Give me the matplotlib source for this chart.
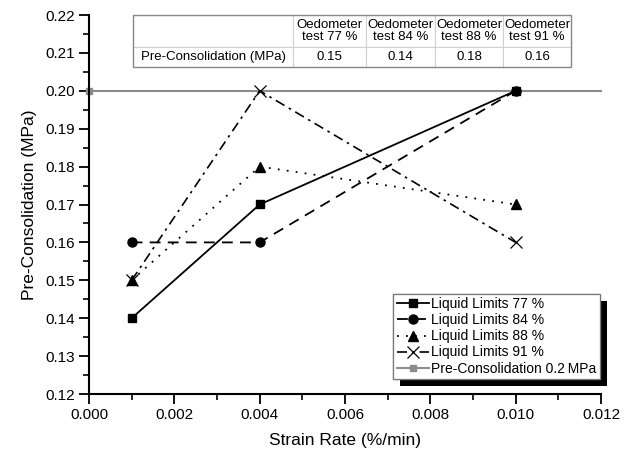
import numpy as np
import matplotlib.pyplot as plt
import matplotlib.patheffects as pe
from matplotlib.ticker import MultipleLocator, FormatStrFormatter

plt.rcParams['font.family'] = ['Liberation Sans', 'DejaVu Sans']

# strain rates and measured pre-consolidation pressures
strain_rate = [0.001, 0.004, 0.010]
ll77 = [0.14, 0.17, 0.20]
ll84 = [0.16, 0.16, 0.20]
ll88 = [0.15, 0.18, 0.17]
ll91 = [0.15, 0.20, 0.16]
ref_x = [0.0, 0.012]
ref_y = [0.20, 0.20]

# oedometer results for the inset table
oedo_cols = ['Oedometer\ntest 77 %', 'Oedometer\ntest 84 %',
             'Oedometer\ntest 88 %', 'Oedometer\ntest 91 %']
oedo_vals = ['0.15', '0.14', '0.18', '0.16']

fig = plt.figure(figsize=(6.32, 4.57), dpi=100)
ax = fig.add_axes([89/632, 63/457, 512/632, 379/457])

ax.plot(ref_x, ref_y, color='#8c8c8c', lw=1.5, marker='s', ms=5,
        markevery=[0], clip_on=False, zorder=2,
        label='Pre-Consolidation 0.2\u2009MPa')
ax.plot(strain_rate, ll77, color='k', lw=1.3, ls='-', marker='s', ms=6,
        label='Liquid Limits 77 %', zorder=3)
ax.plot(strain_rate, ll84, color='k', lw=1.3, ls=(0, (6, 4)), marker='o', ms=6.5,
        label='Liquid Limits 84 %', zorder=3)
ax.plot(strain_rate, ll88, color='k', lw=1.3, ls=(0, (1, 4)), marker='^', ms=7,
        label='Liquid Limits 88 %', zorder=3)
ax.plot(strain_rate, ll91, color='k', lw=1.2, ls=(0, (6, 3, 1.5, 3)), marker='x', ms=8,
        mew=0.9, label='Liquid Limits 91 %', zorder=3)

ax.set_xlim(0, 0.012)
ax.set_ylim(0.12, 0.22)
ax.xaxis.set_major_locator(MultipleLocator(0.002))
ax.xaxis.set_minor_locator(MultipleLocator(0.001))
ax.yaxis.set_major_locator(MultipleLocator(0.01))
ax.yaxis.set_minor_locator(MultipleLocator(0.005))
ax.xaxis.set_major_formatter(FormatStrFormatter('%.3f'))
ax.yaxis.set_major_formatter(FormatStrFormatter('%.2f'))

for side in ['top', 'right']:
    ax.spines[side].set_visible(False)
for side in ['left', 'bottom']:
    ax.spines[side].set_linewidth(1.5)
ax.tick_params(which='major', direction='out', length=7, width=1.3, labelsize=11, pad=3)
ax.tick_params(which='minor', direction='out', length=4, width=1.2)

ax.set_xlabel('Strain Rate (%/min)', fontsize=12.5, labelpad=8)
ax.set_ylabel('Pre-Consolidation (MPa)', fontsize=12.5, labelpad=6)

# legend order: series first, reference line last
handles, labels = ax.get_legend_handles_labels()
handles = handles[1:] + handles[:1]
labels = labels[1:] + labels[:1]
leg = ax.legend(handles, labels, loc='lower right', bbox_to_anchor=(600/632, 78/457),
                bbox_transform=fig.transFigure, borderaxespad=0, fontsize=10,
                fancybox=False, framealpha=1, edgecolor='#777777', handlelength=2.3,
                handletextpad=0.2, borderpad=0.25, labelspacing=0.15)
leg.get_frame().set_linewidth(0.9)
leg.get_frame().set_path_effects([
    pe.withSimplePatchShadow(offset=(5, -5), shadow_rgbFace='k', alpha=1.0),
    pe.Normal()])

# inset table of oedometer results
cells = [[''] + oedo_cols, ['Pre-Consolidation (MPa)'] + oedo_vals]
tbl = ax.table(cellText=cells, cellLoc='center',
               bbox=[(133-89)/512, (394-67)/379, (571-133)/512, 52/379])
tbl.auto_set_font_size(False)
col_w = [160, 73, 69, 68, 68]
row_h = [32, 20]
for (r, c), cell in tbl.get_celld().items():
    cell.set_width(col_w[c] / 512)
    cell.set_height(row_h[r] / 379)
    cell.set_edgecolor('#d0d0d0')
    cell.set_linewidth(0.8)
    cell.get_text().set_fontsize(9.5)
    cell.get_text().set_linespacing(1.0)
# darker outer frame
ax.add_patch(plt.Rectangle(((133-89)/512, (394-67)/379), (571-133)/512, 52/379,
                           transform=ax.transAxes, fill=False, ec='#888888', lw=1.0,
                           zorder=10, clip_on=False))

fig.savefig('out.png', dpi=100)
